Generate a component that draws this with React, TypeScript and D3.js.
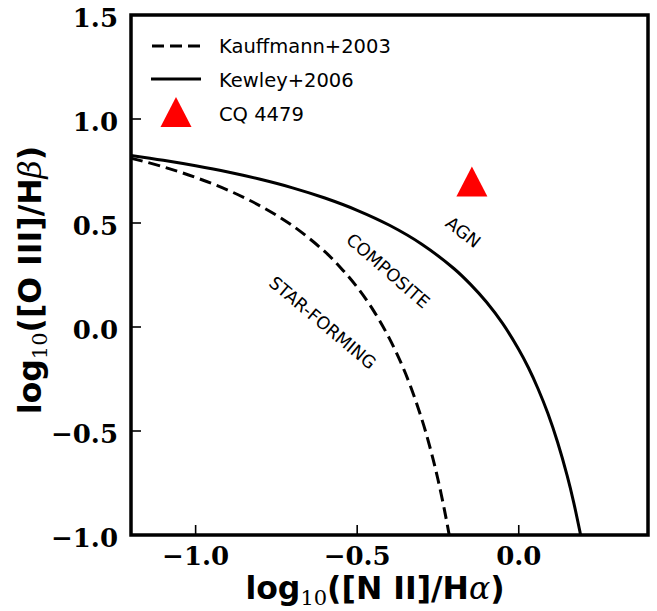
import React from "react";
import * as d3 from "d3";

// Demarcation curves (x = log10([N II]/Hα), y = log10([O III]/Hβ))
const kauffmannX = [-1.2, -1.1, -1.0, -0.9, -0.8, -0.7, -0.6, -0.55, -0.5, -0.45, -0.4, -0.35, -0.3, -0.27, -0.25, -0.23, -0.215];
const kauffmannY = [0.812, 0.77, 0.719, 0.658, 0.582, 0.487, 0.362, 0.283, 0.191, 0.08, -0.056, -0.225, -0.443, -0.606, -0.733, -0.879, -1.002];
const kewleyX = [-1.2, -1.1, -1.0, -0.9, -0.8, -0.7, -0.6, -0.5, -0.4, -0.3, -0.2, -0.15, -0.1, -0.05, 0.0, 0.03, 0.06, 0.09, 0.12, 0.15, 0.17, 0.19, 0.195];
const kewleyY = [0.825, 0.8015, 0.775, 0.745, 0.71, 0.669, 0.62, 0.561, 0.489, 0.398, 0.28, 0.206, 0.12, 0.017, -0.108, -0.196, -0.298, -0.415, -0.553, -0.716, -0.843, -0.989, -1.028];
const sourceX = [-0.145];
const sourceY = [0.70];
const xTicks = [-1.0, -0.5, 0.0];
const yTicks = [-1.0, -0.5, 0.0, 0.5, 1.0, 1.5];
const legendLabels = ["Kauffmann+2003", "Kewley+2006", "CQ 4479"];
const regionLabels = [
  { text: "AGN", x: -0.172, y: 0.455, angle: 38 },
  { text: "COMPOSITE", x: -0.405, y: 0.27, angle: 41 },
  { text: "STAR-FORMING", x: -0.607, y: 0.02, angle: 40 },
];

const W = 657, H = 611;
const L = 131, R = 648, T = 15, B = 535;

const fmt = (v: number) => (v < 0 ? "\u2212" : "") + Math.abs(v).toFixed(1);

function tri(cx: number, cy: number, w: number, h: number) {
  return `M${cx},${cy - h / 2}L${cx + w / 2},${cy + h / 2}L${cx - w / 2},${cy + h / 2}Z`;
}

export default function App() {
  const x = d3.scaleLinear().domain([-1.2, 0.4]).range([L, R]);
  const y = d3.scaleLinear().domain([-1.0, 1.5]).range([B, T]);
  const line = d3
    .line<[number, number]>()
    .x((d) => x(d[0]))
    .y((d) => y(d[1]))
    .curve(d3.curveCatmullRom);
  const kauff = kauffmannX.map((v, i) => [v, kauffmannY[i]] as [number, number]);
  const kew = kewleyX.map((v, i) => [v, kewleyY[i]] as [number, number]);

  const tickFont = "'DejaVu Serif', serif";
  const sans = "'DejaVu Sans', sans-serif";

  return (
    <svg width={W} height={H} style={{ position: "absolute", left: 0, top: 0, background: "#fff" }}>
      <defs>
        <clipPath id="plotclip">
          <rect x={L} y={T} width={R - L} height={B - T} />
        </clipPath>
      </defs>
      <g clipPath="url(#plotclip)">
        <path d={line(kauff) || ""} fill="none" stroke="#000" strokeWidth={3} strokeDasharray="12,6" />
        <path d={line(kew) || ""} fill="none" stroke="#000" strokeWidth={3} />
        {sourceX.map((v, i) => (
          <path key={i} d={tri(x(v), y(sourceY[i]), 31, 30)} fill="#ff0000" />
        ))}
      </g>
      {regionLabels.map((r) => (
        <text
          key={r.text}
          x={x(r.x)}
          y={y(r.y)}
          transform={`rotate(${r.angle},${x(r.x)},${y(r.y)})`}
          textAnchor="middle"
          dominantBaseline="central"
          fontFamily={sans}
          fontSize={17.5}
          fill="#000"
        >
          {r.text}
        </text>
      ))}
      {/* ticks */}
      {xTicks.map((t) => (
        <g key={"x" + t}>
          <line x1={x(t)} x2={x(t)} y1={B} y2={B - 10} stroke="#000" strokeWidth={1.6} />
          <text x={x(t)} y={565} textAnchor="middle" fontFamily={tickFont} fontWeight="bold" fontSize={26} fill="#000">
            {fmt(t)}
          </text>
        </g>
      ))}
      {yTicks.map((t) => (
        <g key={"y" + t}>
          <line x1={L} x2={L + 10} y1={y(t)} y2={y(t)} stroke="#000" strokeWidth={1.6} />
          <text x={118} y={y(t) + 12} textAnchor="end" fontFamily={tickFont} fontWeight="bold" fontSize={26} fill="#000">
            {fmt(t)}
          </text>
        </g>
      ))}
      <rect x={L} y={T} width={R - L} height={B - T} fill="none" stroke="#000" strokeWidth={3.5} />
      {/* legend */}
      <line x1={152} x2={200} y1={46} y2={46} stroke="#000" strokeWidth={3} strokeDasharray="12,6" />
      <text x={219} y={53} fontFamily={sans} fontSize={19.5} fill="#000">{legendLabels[0]}</text>
      <line x1={151} x2={201} y1={79} y2={79} stroke="#000" strokeWidth={3} />
      <text x={219} y={87} fontFamily={sans} fontSize={19.5} fill="#000">{legendLabels[1]}</text>
      <path d={tri(176, 112, 31, 30)} fill="#ff0000" />
      <text x={219} y={121} fontFamily={sans} fontSize={19.5} fill="#000">{legendLabels[2]}</text>
      {/* axis labels */}
      <text x={375} y={599} textAnchor="middle" fontFamily={sans} fontWeight="bold" fontSize={31.5} fill="#000">
        log
        <tspan fontFamily={tickFont} fontSize={21} fontWeight="normal" dy={6}>10</tspan>
        <tspan dy={-6}>([N II]/H</tspan>
        <tspan fontFamily={tickFont} fontStyle="italic" fontWeight="normal">α</tspan>
        <tspan>)</tspan>
      </text>
      <text
        x={0}
        y={0}
        transform={`translate(41,280) rotate(-90)`}
        textAnchor="middle"
        fontFamily={sans}
        fontWeight="bold"
        fontSize={31.5}
        fill="#000"
      >
        log
        <tspan fontFamily={tickFont} fontSize={21} fontWeight="normal" dy={6}>10</tspan>
        <tspan dy={-6}>([O III]/H</tspan>
        <tspan fontFamily={tickFont} fontStyle="italic" fontWeight="normal">β</tspan>
        <tspan>)</tspan>
      </text>
    </svg>
  );
}
